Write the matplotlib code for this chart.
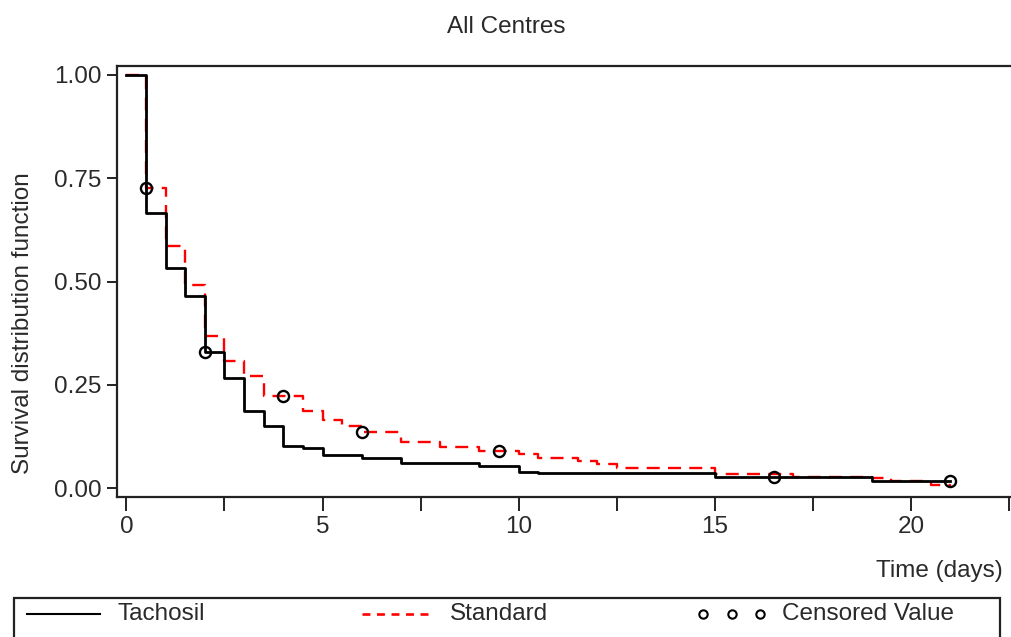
import numpy as np
import matplotlib
matplotlib.use("Agg")
import matplotlib.pyplot as plt
from matplotlib.lines import Line2D
from matplotlib.patches import Rectangle

plt.rcParams['font.family'] = ['Liberation Sans', 'DejaVu Sans']

# ---- data ----
tach_t = [0.0, 0.5, 1.0, 1.5, 2.0, 2.5, 3.0, 3.5, 4.0, 4.5, 5.0, 6.0, 7.0, 9.0, 10.0, 10.5, 15.0, 19.0, 21.0]
tach_s = [1.0, 0.667, 0.534, 0.465, 0.331, 0.268, 0.187, 0.150, 0.103, 0.097, 0.081, 0.073, 0.062, 0.055, 0.040, 0.036, 0.028, 0.018, 0.018]
std_t = [0.0, 0.5, 1.0, 1.5, 2.0, 2.5, 3.0, 3.5, 4.5, 5.0, 5.5, 6.0, 7.0, 8.0, 9.0, 10.0, 10.5, 11.5, 12.0, 12.5, 15.0, 17.0, 19.0, 19.5, 20.5, 21.0]
std_s = [1.0, 0.727, 0.587, 0.492, 0.368, 0.307, 0.271, 0.223, 0.186, 0.166, 0.151, 0.137, 0.113, 0.099, 0.090, 0.082, 0.074, 0.067, 0.060, 0.050, 0.035, 0.028, 0.024, 0.018, 0.008, 0.0]
tach_cens_t = [2.0, 16.5, 21.0]
std_cens_t = [0.5, 4.0, 6.0, 9.5]

x_major = [0, 5, 10, 15, 20]
x_minor = [2.5, 7.5, 12.5, 17.5, 22.5]
y_major = [0.0, 0.25, 0.50, 0.75, 1.00]

title = "All Centres"
xlabel = "Time (days)"
ylabel = "Survival distribution function"
legend_labels = ["Tachosil", "Standard", "Censored Value"]


def surv_at(times, surv, tc):
    idx = np.searchsorted(times, tc, side='right') - 1
    return np.asarray(surv)[idx]


TXT = '#2a2a2a'
FS = 17.5
W, H = 1011, 637
fig = plt.figure(figsize=(W / 100, H / 100), dpi=100)
ax = fig.add_axes([117 / W, 1 - 497 / H, (1011 - 117) / W, (497 - 66) / H])

ax.step(std_t, std_s, where='post', color='#ff0000', lw=1.7,
        linestyle=(0, (5.5, 3.5)), zorder=2)
ax.step(tach_t, tach_s, where='post', color='black', lw=2.0, zorder=3)

cx = list(tach_cens_t) + list(std_cens_t)
cy = list(surv_at(tach_t, tach_s, tach_cens_t)) + list(surv_at(std_t, std_s, std_cens_t))
ax.plot(cx, cy, linestyle='none', marker='o', markersize=8, markerfacecolor='none',
        markeredgecolor='black', markeredgewidth=1.7, zorder=4)

ax.set_xlim(-0.24, 22.55)
ax.set_ylim(-0.021, 1.0217)
ax.set_xticks(x_major)
ax.set_xticks(x_minor, minor=True)
ax.set_xticklabels([str(v) for v in x_major])
ax.set_yticks(y_major)
ax.set_yticklabels([f"{v:.2f}" for v in y_major])

for s in ['left', 'top', 'bottom']:
    ax.spines[s].set_color('#222222')
    ax.spines[s].set_linewidth(1.6)
ax.spines['right'].set_visible(False)

ax.tick_params(axis='x', which='both', direction='out', length=10, width=1.4,
               color='#222222', pad=4, labelsize=FS, labelcolor=TXT)
ax.tick_params(axis='y', which='major', direction='out', length=7, width=1.4,
               color='#222222', pad=4, labelsize=FS, labelcolor=TXT)

fig.text(506 / W, 1 - 27 / H, title, ha='center', va='center', fontsize=FS, color=TXT)
fig.text(1003 / W, 1 - 571 / H, xlabel, ha='right', va='center', fontsize=FS, color=TXT)
fig.text(23 / W, 1 - 323 / H, ylabel, ha='center', va='center', rotation=90,
         fontsize=FS, color=TXT)

# legend box
fig.add_artist(Rectangle((14 / W, 1 - 660 / H), (1000 - 14) / W, (660 - 598) / H,
                         transform=fig.transFigure, fill=False, edgecolor='#222222',
                         lw=1.6, clip_on=False))
ly = 1 - 614 / H
fig.add_artist(Line2D([27 / W, 100 / W], [ly, ly], transform=fig.transFigure,
                      color='black', lw=1.5))
fig.text(117 / W, ly, legend_labels[0], ha='left', va='center', fontsize=FS, color=TXT)
fig.add_artist(Line2D([362 / W, 430 / W], [ly, ly], transform=fig.transFigure,
                      color='#ff0000', lw=1.9, linestyle=(0, (3, 2.5))))
fig.text(450 / W, ly, legend_labels[1], ha='left', va='center', fontsize=FS, color=TXT)
fig.add_artist(Line2D([703 / W, 732 / W, 760 / W], [ly, ly, ly], transform=fig.transFigure,
                      linestyle='none', marker='o', markersize=6, markerfacecolor='none',
                      markeredgecolor='black', markeredgewidth=1.5))
fig.text(782 / W, ly, legend_labels[2], ha='left', va='center', fontsize=FS, color=TXT)

fig.savefig("out.png", dpi=100)
